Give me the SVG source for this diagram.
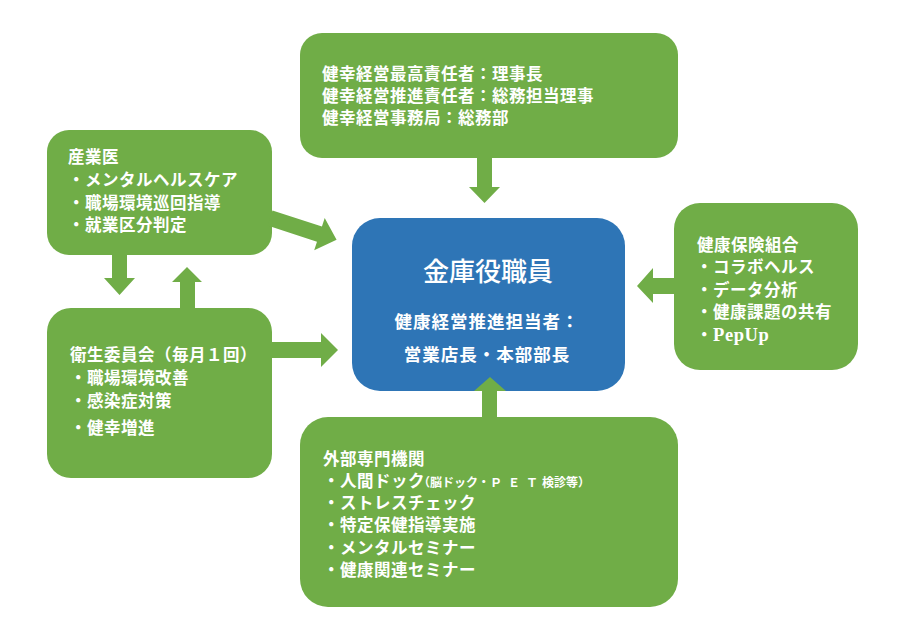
<svg xmlns="http://www.w3.org/2000/svg" width="908" height="635" viewBox="0 0 908 635">
<style>
.g{fill:#70AD47}
.b{fill:#2E75B6}
text{fill:#fff;font-family:"Noto Sans CJK JP","Noto Sans CJK SC",sans-serif;font-size:16.5px;font-weight:bold;letter-spacing:0.5px}
.t1{font-size:26px;font-weight:500;letter-spacing:0}
.t2{font-size:17.5px;letter-spacing:1px}
.sm{font-size:12px;letter-spacing:0}
.pp{font-family:"Liberation Serif",serif;font-weight:bold;font-size:18.5px;letter-spacing:0.6px}
</style>
<rect width="908" height="635" fill="#fff"/>
<g id="top">
<rect class="g" x="300" y="33" width="378" height="125" rx="22"/>
<text x="322" y="80">健幸経営最高責任者：理事長</text>
<text x="322" y="102">健幸経営推進責任者：総務担当理事</text>
<text x="322" y="124">健幸経営事務局：総務部</text>
</g>
<g id="sangyoi">
<rect class="g" x="47" y="130" width="225" height="125" rx="22"/>
<text x="68" y="163">産業医</text>
<text x="68" y="186">・メンタルヘルスケア</text>
<text x="68" y="209">・職場環境巡回指導</text>
<text x="68" y="231">・就業区分判定</text>
</g>
<g id="eisei">
<rect class="g" x="47" y="308" width="225" height="170" rx="24"/>
<text x="70" y="361">衛生委員会（毎月１回）</text>
<text x="70" y="384">・職場環境改善</text>
<text x="70" y="407">・感染症対策</text>
<text x="70" y="434">・健幸増進</text>
</g>
<g id="center">
<rect class="b" x="352" y="218" width="273" height="173" rx="28"/>
<text class="t1" x="488" y="281" text-anchor="middle">金庫役職員</text>
<text class="t2" x="487" y="328" text-anchor="middle">健康経営推進担当者：</text>
<text class="t2" x="487" y="361" text-anchor="middle">営業店長・本部部長</text>
</g>
<g id="kenpo">
<rect class="g" x="674" y="203" width="184" height="167" rx="26"/>
<text x="697" y="251">健康保険組合</text>
<text x="696" y="273">・コラボヘルス</text>
<text x="696" y="296">・データ分析</text>
<text x="696" y="318">・健康課題の共有</text>
<text x="696" y="341">・<tspan class="pp">PepUp</tspan></text>
</g>
<g id="gaibu">
<rect class="g" x="300" y="417" width="378" height="190" rx="28"/>
<text x="323" y="465">外部専門機関</text>
<text x="323" y="487">・人間ドック<tspan class="sm" x="418">（脳ドック・</tspan><tspan class="sm" x="490">Ｐ</tspan><tspan class="sm" x="508">Ｅ</tspan><tspan class="sm" x="526">Ｔ</tspan><tspan class="sm" x="542">検診等）</tspan></text>
<text x="323" y="509">・ストレスチェック</text>
<text x="323" y="531">・特定保健指導実施</text>
<text x="323" y="554">・メンタルセミナー</text>
<text x="323" y="576">・健康関連セミナー</text>
</g>
<g id="connectors">
<polygon class="g" points="477,157 492,157 492,187 500,187 484.5,203 469,187 477,187"/>
<polygon class="g" points="482,418 482,391 474,391 490,377 506,391 497,391 497,418"/>
<polygon class="g" points="112,254 127,254 127,278 135,278 119.5,295 104,278 112,278"/>
<polygon class="g" points="180,309 180,282 172,282 187,267 202,282 195,282 195,309"/>
<polygon class="g" points="271,342 321,342 321,333 338,350 321,367 321,358 271,358"/>
<polygon class="g" points="675,278 653,278 653,268 637,286 653,303 653,294 675,294"/>
<polygon class="g" transform="translate(270,218) rotate(18)" points="0,-8 52,-8 52,-17 70,0 52,17 52,8 0,8"/>
</g>
</svg>
